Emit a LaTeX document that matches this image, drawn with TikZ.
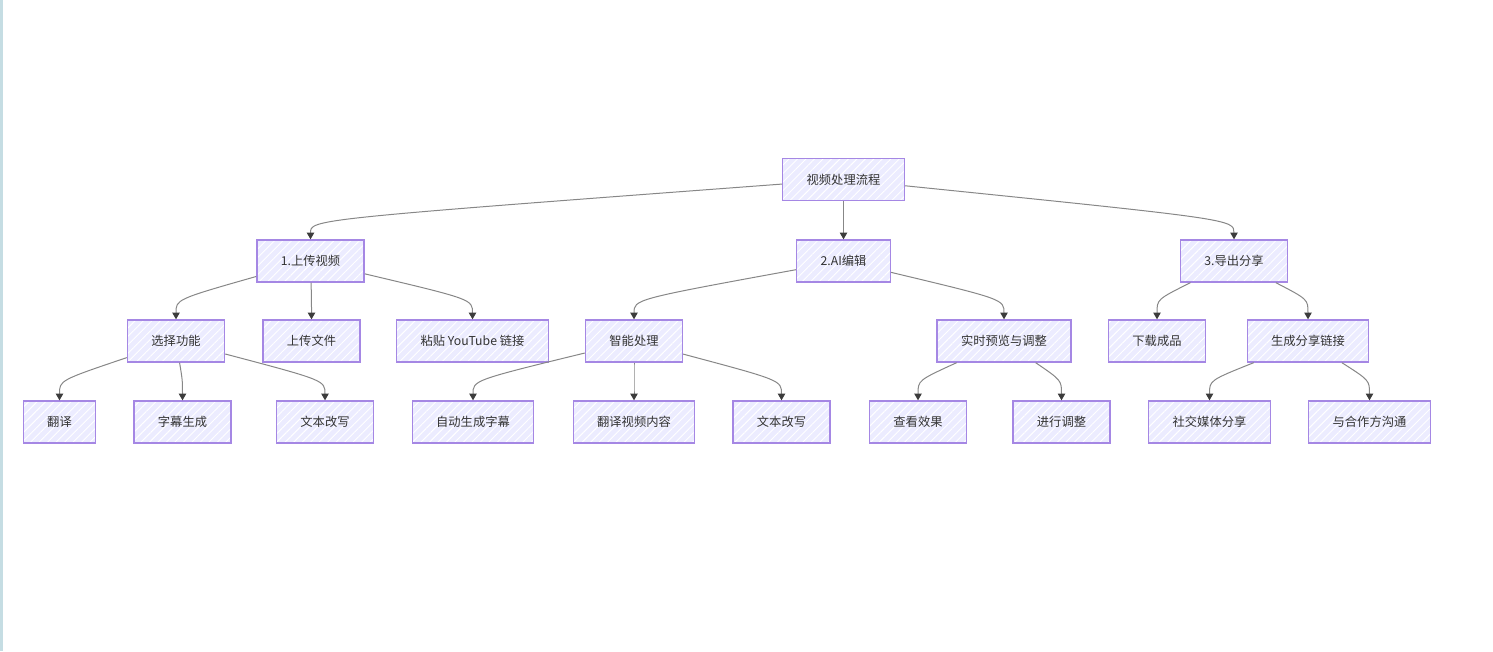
\documentclass[tikz,border=0pt]{standalone}
\usepackage{fontspec}
\setmainfont{Noto Sans CJK SC}
\usepackage{tikz}
\usetikzlibrary{arrows.meta}
\usetikzlibrary{patterns.meta}

\definecolor{boxfill}{RGB}{236,236,255}
\definecolor{boxline}{RGB}{165,135,228}
\definecolor{edgeline}{RGB}{135,135,135}
\definecolor{tipfill}{RGB}{60,60,60}
\definecolor{strip}{RGB}{197,221,227}
\definecolor{labeltext}{RGB}{51,51,51}

\begin{document}
\begin{tikzpicture}[x=0.75pt, y=-0.75pt,
	task/.style={preaction={fill=boxfill}, preaction={pattern={Lines[angle=45, distance=4.5pt, line width=0.7pt]}, pattern color=white}, draw=boxline, line width=1pt, text=labeltext, font=\fontsize{9.2pt}{11pt}\selectfont, minimum height=31.5pt, inner xsep=18pt, inner ysep=0pt},
	edge/.style={draw=edgeline, line width=0.75pt, -{Triangle[width=5.5pt, length=5pt, color=tipfill]}}]
	\useasboundingbox (0,0) rectangle (1493,651);
	\fill [strip] (0,0) rectangle (3,651);

	\node [task] (t0_0) at (843.5,179.5) {视频处理流程};

	\node [task] (t1_0) at (310.5,261) {1.上传视频};
	\node [task] (t1_1) at (843.5,261) {2.AI编辑};
	\node [task] (t1_2) at (1234,261) {3.导出分享};

	\node [task] (t2_0) at (176,341) {选择功能};
	\node [task] (t2_1) at (311.5,341) {上传文件};
	\node [task] (t2_2) at (472.5,341) {粘贴 YouTube 链接};
	\node [task] (t2_3) at (634,341) {智能处理};
	\node [task] (t2_4) at (1004,341) {实时预览与调整};
	\node [task] (t2_5) at (1157,341) {下载成品};
	\node [task] (t2_6) at (1308,341) {生成分享链接};

	\node [task] (t3_0) at (59.5,422) {翻译};
	\node [task] (t3_1) at (182.5,422) {字幕生成};
	\node [task] (t3_2) at (325,422) {文本改写};
	\node [task] (t3_3) at (473,422) {自动生成字幕};
	\node [task] (t3_4) at (634,422) {翻译视频内容};
	\node [task] (t3_5) at (781.5,422) {文本改写};
	\node [task] (t3_6) at (918,422) {查看效果};
	\node [task] (t3_7) at (1061.5,422) {进行调整};
	\node [task] (t3_8) at (1209.5,422) {社交媒体分享};
	\node [task] (t3_9) at (1369.5,422) {与合作方沟通};

	% first level
	\draw [edge] (t0_0) .. controls ([yshift=15pt]t1_0.north) .. (t1_0.north);
	\draw [edge] (t0_0) .. controls ([yshift=15pt]t1_1.north) .. (t1_1.north);
	\draw [edge] (t0_0) .. controls ([yshift=15pt]t1_2.north) .. (t1_2.north);

	% second level
	\draw [edge] (t1_0) .. controls ([yshift=15pt]t2_0.north) .. (t2_0.north);
	\draw [edge] (t1_0) .. controls ([yshift=15pt]t2_1.north) .. (t2_1.north);
	\draw [edge] (t1_0) .. controls ([yshift=15pt]t2_2.north) .. (t2_2.north);
	\draw [edge] (t1_1) .. controls ([yshift=15pt]t2_3.north) .. (t2_3.north);
	\draw [edge] (t1_1) .. controls ([yshift=15pt]t2_4.north) .. (t2_4.north);
	\draw [edge] (t1_2) .. controls ([yshift=15pt]t2_5.north) .. (t2_5.north);
	\draw [edge] (t1_2) .. controls ([yshift=15pt]t2_6.north) .. (t2_6.north);

	% third level
	\draw [edge] (t2_0) .. controls ([yshift=15pt]t3_0.north) .. (t3_0.north);
	\draw [edge] (t2_0) .. controls ([yshift=15pt]t3_1.north) .. (t3_1.north);
	\draw [edge] (t2_0) .. controls ([yshift=15pt]t3_2.north) .. (t3_2.north);
	\draw [edge] (t2_3) .. controls ([yshift=15pt]t3_3.north) .. (t3_3.north);
	\draw [edge] (t2_3) .. controls ([yshift=15pt]t3_4.north) .. (t3_4.north);
	\draw [edge] (t2_3) .. controls ([yshift=15pt]t3_5.north) .. (t3_5.north);
	\draw [edge] (t2_4) .. controls ([yshift=15pt]t3_6.north) .. (t3_6.north);
	\draw [edge] (t2_4) .. controls ([yshift=15pt]t3_7.north) .. (t3_7.north);
	\draw [edge] (t2_6) .. controls ([yshift=15pt]t3_8.north) .. (t3_8.north);
	\draw [edge] (t2_6) .. controls ([yshift=15pt]t3_9.north) .. (t3_9.north);
\end{tikzpicture}
\end{document}
